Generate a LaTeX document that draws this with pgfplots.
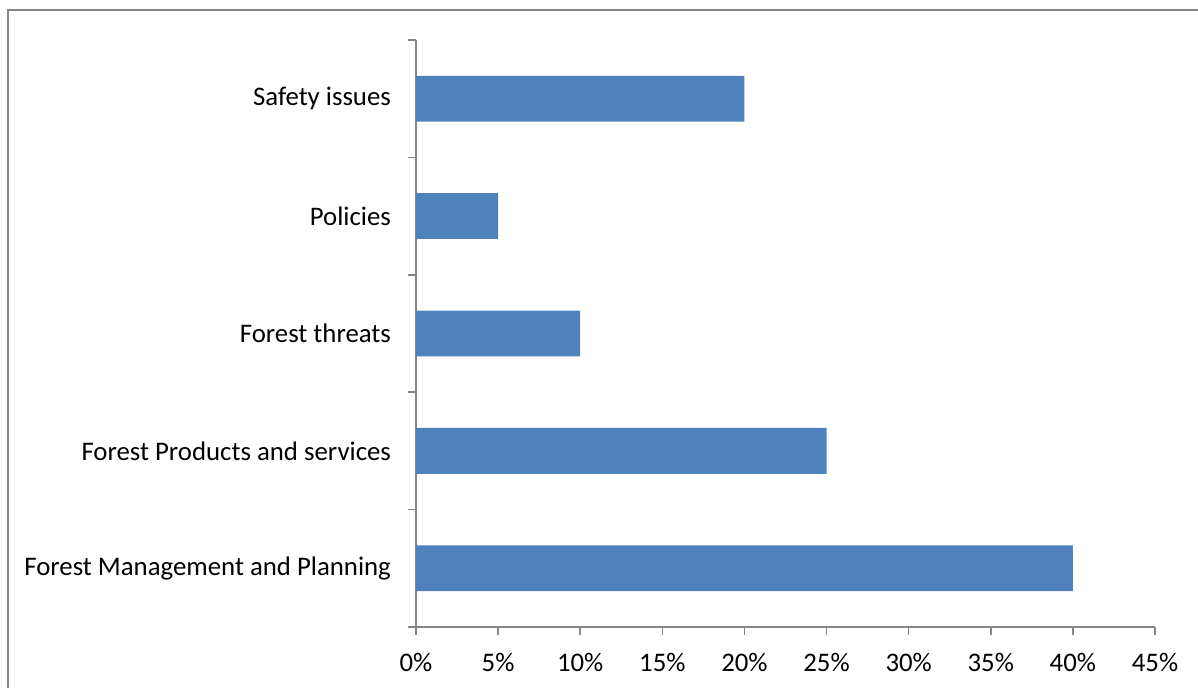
\documentclass[border=0pt]{standalone}
\usepackage{fontspec}
\setmainfont{Carlito}
\usepackage{pgfplots}
\pgfplotsset{compat=1.18}
\definecolor{barblue}{HTML}{4F81BD}
\definecolor{axgray}{HTML}{868686}
\begin{document}
\begin{tikzpicture}
\useasboundingbox (0,0) rectangle (599pt,344pt);
\draw[axgray, line width=1pt] (4pt,0) -- (4pt,339pt) -- (599pt,339pt);
\begin{axis}[
  at={(208pt,30.5pt)}, anchor=south west,
  scale only axis, width=369.5pt, height=293.5pt,
  xmin=0, xmax=45, ymin=-0.5, ymax=4.5,
  axis lines=left, axis line style={-, axgray, line width=0.75pt},
  xbar, bar width=0.39, bar shift=0pt,
  xtick={0,5,...,45},
  xticklabels={0\%,5\%,10\%,15\%,20\%,25\%,30\%,35\%,40\%,45\%},
  ytick={-0.5,0.5,1.5,2.5,3.5,4.5},
  yticklabels={},
  extra y ticks={0,1,2,3,4},
  extra y tick labels={Forest Management and Planning,Forest Products and services,Forest threats,Policies,Safety issues},
  extra y tick style={major tick length=0pt, tick style={draw=none}},
  yticklabel style={xshift=-9pt},
  tick style={axgray, line width=0.75pt},
  major tick length=3.8pt,
  tick align=outside,
  ticklabel style={font=\fontsize{13.4}{16}\selectfont, text=black},
  xticklabel style={yshift=-6pt},
  clip=false,
]
\addplot[fill=barblue, draw=none] coordinates {(40,0) (25,1) (10,2) (5,3) (20,4)};
\end{axis}
\end{tikzpicture}
\end{document}
